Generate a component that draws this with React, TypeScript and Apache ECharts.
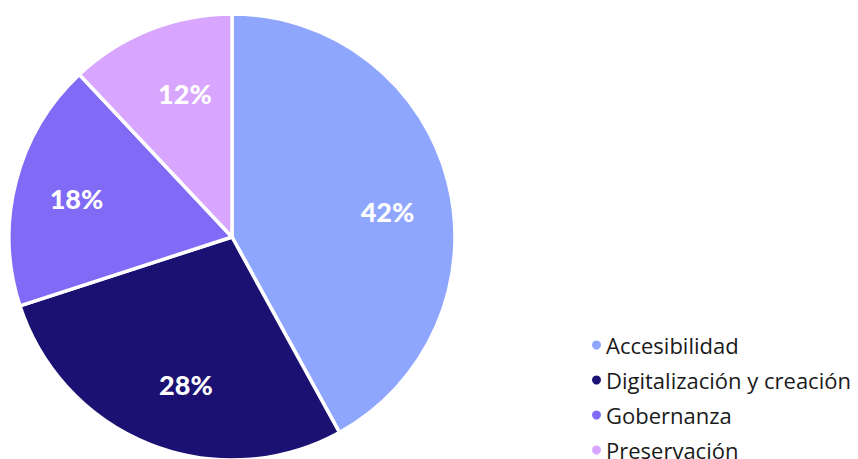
import React, { useEffect, useRef } from "react";
import * as echarts from "echarts";

const categories = ["Accesibilidad", "Digitalización y creación", "Gobernanza", "Preservación"];
const values = [42, 28, 18, 12];
const colors = ["#8EA6FE", "#1A1172", "#806AF6", "#D8A6FE"];

export default function App() {
  const ref = useRef<HTMLDivElement>(null);
  useEffect(() => {
    document.body.style.margin = "0";
    const chart = echarts.init(ref.current!, null, { renderer: "svg" });
    const labelShift = [[0, 14], [13, -2], [0, 1], [12, 6]];
    const data = categories.map((name, i) => ({
      name,
      value: values[i],
      itemStyle: { color: colors[i] },
    }));
    chart.setOption({
      animation: false,
      legend: {
        orient: "vertical",
        left: 585,
        top: 329,
        height: 150,
        icon: "circle",
        itemWidth: 11,
        itemHeight: 11,
        itemGap: 13,
        data: categories,
        textStyle: {
          fontFamily: "Open Sans",
          fontSize: 22,
          color: "#1a1a1a",
          lineHeight: 22,
          padding: [0, 0, 0, -1],
        },
      },
      series: [
        {
          type: "pie",
          center: [232, 237],
          radius: [0, 223],
          startAngle: 90,
          clockwise: true,
          data,
          label: { show: false },
          labelLine: { show: false },
          itemStyle: { borderColor: "#ffffff", borderWidth: 3.5 },
          emphasis: { disabled: true },
        },
        {
          type: "pie",
          center: [232, 237],
          radius: [92, 223],
          startAngle: 90,
          clockwise: true,
          silent: true,
          data: categories.map((name, i) => ({
            name,
            value: values[i],
            itemStyle: { color: "rgba(0,0,0,0)" },
            label: { offset: labelShift[i] },
          })),
          label: {
            show: true,
            position: "inside",
            formatter: "{c}%",
            color: "#ffffff",
            fontFamily: "Lato",
            fontWeight: 900,
            fontSize: 27,
          },
          labelLine: { show: false },
          emphasis: { disabled: true },
        },
      ],
    });
    return () => chart.dispose();
  }, []);
  return <div ref={ref} style={{ width: 858, height: 459 }} />;
}
